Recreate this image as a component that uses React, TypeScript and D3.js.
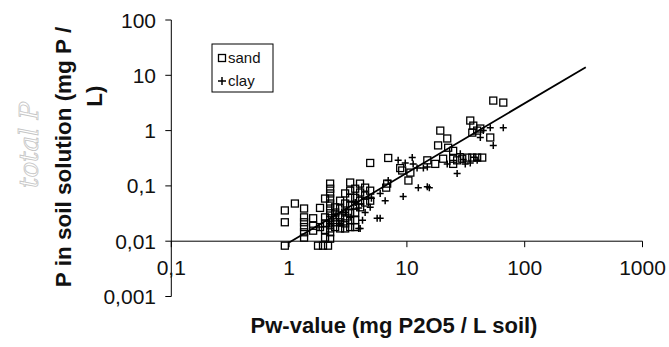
import React from "react";
import * as d3 from "d3";

const xTicks = [0.1, 1, 10, 100, 1000];
const xTickLabels = ["0,1", "1", "10", "100", "1000"];
const yTicks = [100, 10, 1, 0.1, 0.01, 0.001];
const yTickLabels = ["100", "10", "1", "0,1", "0,01", "0,001"];

const sand: [number, number][] = [
  [0.92, 0.0083], [0.92, 0.036], [0.92, 0.022], [1.12, 0.048],
  [1.34, 0.039], [1.34, 0.027], [1.34, 0.022], [1.34, 0.018], [1.34, 0.0145], [1.34, 0.0116],
  [1.6, 0.026], [1.6, 0.019], [1.6, 0.0155],
  [1.83, 0.04], [1.83, 0.018],
  [1.76, 0.0083], [1.94, 0.0083], [2.14, 0.0083],
  [2.23, 0.11], [2.23, 0.089], [2.23, 0.073], [2.23, 0.059], [2.23, 0.048], [2.23, 0.039],
  [2.23, 0.032], [2.23, 0.026], [2.23, 0.021], [2.23, 0.017], [2.23, 0.0145], [2.23, 0.0111],
  [2.02, 0.059], [2.02, 0.027], [2.02, 0.021], [2.02, 0.016], [2.02, 0.0116],
  [2.46, 0.041], [2.46, 0.033], [2.46, 0.027], [2.46, 0.022], [2.46, 0.018],
  [2.71, 0.054], [2.71, 0.039], [2.71, 0.027], [2.71, 0.022], [2.71, 0.017],
  [2.99, 0.073], [2.99, 0.048], [2.99, 0.033], [2.99, 0.026], [2.99, 0.021], [2.99, 0.017],
  [3.3, 0.115], [3.3, 0.082], [3.3, 0.061], [3.3, 0.044], [3.3, 0.032], [3.3, 0.024], [3.3, 0.018],
  [3.64, 0.089], [3.64, 0.061], [3.64, 0.044], [3.64, 0.033], [3.64, 0.024], [3.64, 0.018],
  [4.01, 0.076], [4.01, 0.054], [4.01, 0.041], [4.0, 0.11],
  [4.42, 0.093], [4.42, 0.067], [4.42, 0.05],
  [4.88, 0.082], [4.88, 0.054], [4.88, 0.26],
  [6.8, 0.11], [6.94, 0.32], [6.67, 0.093],
  [8.77, 0.21], [9.12, 0.19], [10.3, 0.125], [10.7, 0.174],
  [14.9, 0.29], [17.4, 0.25], [19.2, 1.0], [18.4, 0.54], [22.0, 0.72], [22.4, 0.49], [20.3, 0.31],
  [24.7, 0.31], [26.7, 0.29], [29.5, 0.31], [32.5, 0.325], [35.9, 0.325], [39.5, 0.325], [43.6, 0.325],
  [24.7, 0.25], [34.5, 1.52], [36.6, 1.23], [35.9, 0.92], [39.5, 1.0], [51.0, 0.75],
  [54.1, 3.49], [65.8, 3.21], [42.0, 1.09], [24.7, 0.43],
];

const clay: [number, number][] = [
  [5.59, 0.026], [5.93, 0.026], [6.54, 0.054], [4.01, 0.017], [4.88, 0.041], [5.93, 0.073], [4.42, 0.033],
  [3.0, 0.033], [3.3, 0.027], [3.64, 0.05], [2.7, 0.021], [2.5, 0.03], [2.2, 0.021], [1.8, 0.018],
  [4.2, 0.024], [3.9, 0.04], [5.0, 0.06], [3.9, 0.017],
  [6.94, 0.125], [8.43, 0.29], [9.68, 0.26], [11.1, 0.325], [11.3, 0.25], [12.2, 0.21], [13.8, 0.21],
  [14.9, 0.22], [12.5, 0.093], [14.9, 0.097], [15.5, 0.093], [9.3, 0.064],
  [26.7, 0.167], [31.3, 0.25], [34.5, 0.26], [39.5, 0.29], [44.5, 1.0], [42.0, 0.75], [51.0, 1.13],
  [54.1, 0.54], [65.8, 1.13], [28.4, 0.38], [22.0, 0.25], [30.0, 0.3], [37.0, 0.33],
];

const trendLine: [number, number][] = [[1, 0.0095], [330, 14]];

const FONT = "Liberation Sans, Arial, sans-serif";

export default function App() {
  const x = d3.scaleLog().domain([0.1, 1000]).range([171.3, 642.5]);
  const y = d3.scaleLog().domain([0.001, 100]).range([296.5, 20]);
  const xAxisY = y(0.01);
  const line = d3
    .line<[number, number]>()
    .x((d) => x(d[0]))
    .y((d) => y(d[1]));
  const s = 3.5;

  return (
    <svg
      width={669}
      height={347}
      style={{ position: "absolute", left: 0, top: 0, background: "#fff" }}
    >
      <rect x={0} y={0} width={669} height={347} fill="#fff" />
      {/* handwritten annotation */}
      <text
        transform="translate(38,145) rotate(-90)"
        textAnchor="middle"
        fontFamily="DejaVu Serif, serif"
        fontStyle="italic"
        fontWeight="300"
        fontSize={26}
        fill="none"
        stroke="#c4c4c4"
        strokeWidth={0.8}
      >
        total P
      </text>

      {/* y axis */}
      <line x1={x(0.1)} x2={x(0.1)} y1={y(100)} y2={y(0.001)} stroke="#000" strokeWidth={1} />
      {yTicks.map((t, i) => (
        <g key={"yt" + i}>
          <line x1={x(0.1) - 6} x2={x(0.1)} y1={y(t)} y2={y(t)} stroke="#000" strokeWidth={1} />
          <text
            x={156}
            y={y(t)}
            dy="0.36em"
            textAnchor="end"
            fontFamily={FONT}
            fontSize={21}
            fill="#111"
          >
            {yTickLabels[i]}
          </text>
        </g>
      ))}

      {/* x axis */}
      <line x1={x(0.1)} x2={x(1000)} y1={xAxisY} y2={xAxisY} stroke="#000" strokeWidth={1} />
      {xTicks.map((t, i) => (
        <g key={"xt" + i}>
          <line x1={x(t)} x2={x(t)} y1={xAxisY} y2={xAxisY + 6} stroke="#000" strokeWidth={1} />
          <text
            x={x(t)}
            y={275}
            textAnchor="middle"
            fontFamily={FONT}
            fontSize={21}
            fill="#111"
          >
            {xTickLabels[i]}
          </text>
        </g>
      ))}

      {/* trend line */}
      <path d={line(trendLine) || ""} stroke="#000" strokeWidth={1.8} fill="none" />

      {/* sand squares */}
      {sand.map((d, i) => (
        <rect
          key={"s" + i}
          x={x(d[0]) - s}
          y={y(d[1]) - s}
          width={2 * s}
          height={2 * s}
          fill="none"
          stroke="#000"
          strokeWidth={1.3}
        />
      ))}
      {/* clay crosses */}
      {clay.map((d, i) => (
        <path
          key={"c" + i}
          d={`M${x(d[0]) - s},${y(d[1])}h${2 * s}M${x(d[0])},${y(d[1]) - s}v${2 * s}`}
          stroke="#000"
          strokeWidth={1.5}
          fill="none"
        />
      ))}

      {/* legend */}
      <rect x={212} y={44} width={61} height={48} fill="#fff" stroke="#000" strokeWidth={1} />
      <rect x={218.5} y={54.5} width={7} height={7} fill="none" stroke="#000" strokeWidth={1.3} />
      <text x={228} y={63} fontFamily={FONT} fontSize={15} fill="#111">sand</text>
      <path d="M218,81h8M222,77v8" stroke="#000" strokeWidth={1.5} />
      <text x={228} y={86} fontFamily={FONT} fontSize={15} fill="#111">clay</text>

      {/* axis titles */}
      <text
        transform="translate(71,157) rotate(-90)"
        textAnchor="middle"
        fontFamily={FONT}
        fontWeight="bold"
        fontSize={22.5}
        fill="#111"
      >
        P in soil solution (mg P /
      </text>
      <text
        transform="translate(102,96) rotate(-90)"
        textAnchor="middle"
        fontFamily={FONT}
        fontWeight="bold"
        fontSize={22.5}
        fill="#111"
      >
        L)
      </text>
      <text
        x={394}
        y={333}
        textAnchor="middle"
        fontFamily={FONT}
        fontWeight="bold"
        fontSize={22}
        fill="#111"
      >
        Pw-value (mg P2O5 / L soil)
      </text>
    </svg>
  );
}
